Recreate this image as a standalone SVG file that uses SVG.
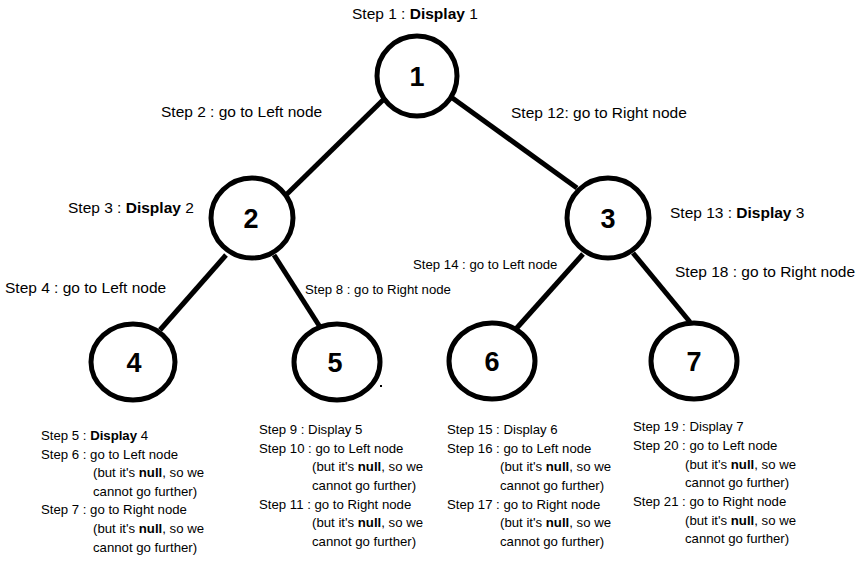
<svg xmlns="http://www.w3.org/2000/svg" width="858" height="576" viewBox="0 0 858 576">
<style>
.n{fill:#fff;stroke:#000;stroke-width:5}
.e{stroke:#000;stroke-width:5;fill:none}
.num{font-family:"Liberation Sans",Arial,sans-serif;font-size:27px;font-weight:bold;text-anchor:middle;fill:#000}
.t{font-family:"Liberation Sans",Arial,sans-serif;font-size:15.5px;fill:#000}
.s{font-family:"Liberation Sans",Arial,sans-serif;font-size:13.2px;fill:#000}
.b{font-weight:bold}
</style>
<rect width="858" height="576" fill="#fff"/>
<g id="connectors">
<line class="e" x1="383" y1="100" x2="287" y2="194"/>
<line class="e" x1="451" y1="97" x2="577" y2="188"/>
<line class="e" x1="226" y1="255" x2="160" y2="330"/>
<line class="e" x1="274" y1="255" x2="320" y2="327"/>
<line class="e" x1="583" y1="254" x2="515" y2="330"/>
<line class="e" x1="633" y1="253" x2="690" y2="322"/>
</g>
<g id="node1"><ellipse class="n" cx="417" cy="76" rx="40" ry="40"/><text class="num" x="417" y="86">1</text></g>
<g id="node2"><ellipse class="n" cx="252" cy="218" rx="41" ry="40"/><text class="num" x="251" y="228">2</text></g>
<g id="node3"><ellipse class="n" cx="608" cy="218" rx="41" ry="40"/><text class="num" x="608" y="228">3</text></g>
<g id="node4"><ellipse class="n" cx="133" cy="362" rx="42" ry="38"/><text class="num" x="134" y="372">4</text></g>
<g id="node5"><ellipse class="n" cx="337" cy="362" rx="43" ry="38"/><text class="num" x="335" y="372">5</text></g>
<g id="node6"><ellipse class="n" cx="492" cy="361" rx="43" ry="38"/><text class="num" x="492" y="371">6</text></g>
<g id="node7"><ellipse class="n" cx="694" cy="361" rx="43" ry="38"/><text class="num" x="694" y="371">7</text></g>
<rect x="380" y="385" width="2" height="2" fill="#000"/>
<g id="labels">
<text class="t" x="352" y="19">Step 1 : <tspan class="b">Display</tspan> 1</text>
<text class="t" x="161" y="117">Step 2 : go to Left node</text>
<text class="t" x="511" y="118">Step 12: go to Right node</text>
<text class="t" x="68" y="213">Step 3 : <tspan class="b">Display</tspan> 2</text>
<text class="t" x="670" y="218">Step 13 : <tspan class="b">Display</tspan> 3</text>
<text class="t" x="5" y="293">Step 4 : go to Left node</text>
<text class="s" x="305" y="294">Step 8 : go to Right node</text>
<text class="s" x="413" y="269">Step 14 : go to Left node</text>
<text class="t" x="675" y="277">Step 18 : go to Right node</text>
</g>
<g id="block4" class="s">
<text x="41" y="440">Step 5 : <tspan class="b">Display</tspan> 4</text>
<text x="41" y="459">Step 6 : go to Left node</text>
<text x="93" y="477">(but it's <tspan class="b">null</tspan>, so we</text>
<text x="93" y="496">cannot go further)</text>
<text x="41" y="514">Step 7 : go to Right node</text>
<text x="93" y="533">(but it's <tspan class="b">null</tspan>, so we</text>
<text x="93" y="552">cannot go further)</text>
</g>
<g id="block5" class="s">
<text x="259" y="434">Step 9 : Display 5</text>
<text x="259" y="453">Step 10 : go to Left node</text>
<text x="312" y="471">(but it's <tspan class="b">null</tspan>, so we</text>
<text x="312" y="490">cannot go further)</text>
<text x="259" y="509">Step 11 : go to Right node</text>
<text x="312" y="527">(but it's <tspan class="b">null</tspan>, so we</text>
<text x="312" y="546">cannot go further)</text>
</g>
<g id="block6" class="s">
<text x="447" y="434">Step 15 : Display 6</text>
<text x="447" y="453">Step 16 : go to Left node</text>
<text x="500" y="471">(but it's <tspan class="b">null</tspan>, so we</text>
<text x="500" y="490">cannot go further)</text>
<text x="447" y="509">Step 17 : go to Right node</text>
<text x="500" y="527">(but it's <tspan class="b">null</tspan>, so we</text>
<text x="500" y="546">cannot go further)</text>
</g>
<g id="block7" class="s">
<text x="633" y="431">Step 19 : Display 7</text>
<text x="633" y="450">Step 20 : go to Left node</text>
<text x="685" y="469">(but it's <tspan class="b">null</tspan>, so we</text>
<text x="685" y="487">cannot go further)</text>
<text x="633" y="506">Step 21 : go to Right node</text>
<text x="685" y="525">(but it's <tspan class="b">null</tspan>, so we</text>
<text x="685" y="543">cannot go further)</text>
</g>
</svg>
